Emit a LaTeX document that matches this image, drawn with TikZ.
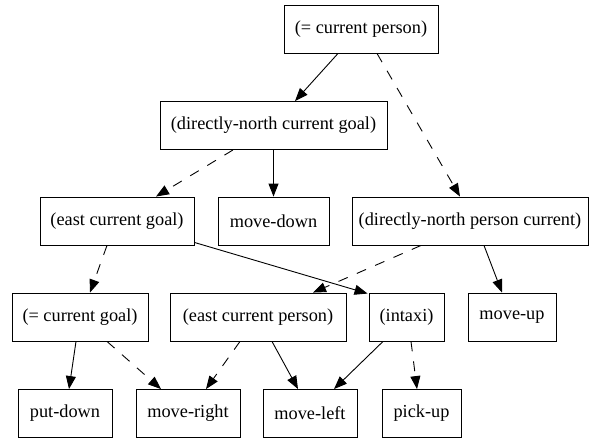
\documentclass[tikz,border=0pt]{standalone}
\usepackage{fontspec}
\setmainfont{Liberation Serif}
\usetikzlibrary{arrows.meta}

\tikzset{
  box/.style={draw, line width=0.9pt, rectangle, inner sep=0pt,
    minimum height=48pt, font=\fontsize{18.3}{22}\selectfont},
  link/.style={line width=0.9pt, -{Triangle[length=13pt,width=10pt]}},
  dlink/.style={link, dash pattern=on 10pt off 10pt},
}

\begin{document}
\begin{tikzpicture}[x=1pt,y=-1pt]
\useasboundingbox[fill=white] (0,0) rectangle (589,437);

% top level
\node[box, minimum width=154pt] (cp)   at (361,29)    {(= current person)};
\node[box, minimum width=227pt] (dncg) at (273.5,125.5) {(directly-north current goal)};

% third row
\node[box, minimum width=154pt] (ecg)  at (117,221)   {(east current goal)};
\node[box, minimum width=111pt] (md)   at (273.5,221) {move-down};
\node[box, minimum width=236pt] (dnpc) at (470,221)   {(directly-north person current)};

% fourth row
\node[box, minimum width=136pt] (ceg)  at (80,317)    {(= current goal)};
\node[box, minimum width=176pt] (ecp)  at (258,317)   {(east current person)};
\node[box, minimum width=75pt]  (itx)  at (406.5,317) {(intaxi)};
\node[box, minimum width=88pt]  (mu)   at (512,317)   {move-up};

% actions
\node[box, minimum width=94pt]  (pd)   at (65,413.5)    {put-down};
\node[box, minimum width=104pt] (mr)   at (188,413.5)   {move-right};
\node[box, minimum width=94pt]  (ml)   at (310,413.5)   {move-left};
\node[box, minimum width=79pt]  (pu)   at (421.5,413.5) {pick-up};

% connectors
\draw[link]  ([xshift=-23pt]cp.south)   -- ([xshift=21.5pt]dncg.north);
\draw[dlink] ([xshift=16pt]cp.south)    -- ([xshift=-10pt]dnpc.north);
\draw[dlink] ([xshift=-40.5pt]dncg.south) -- ([xshift=39pt]ecg.north);
\draw[link]  (dncg.south)               -- (md.north);
\draw[dlink] ([xshift=-10pt]ecg.south)  -- ([xshift=10pt]ceg.north);
\draw[link]  ([yshift=3pt]ecg.south east) -- ([xshift=-1pt,yshift=-1pt]itx.north west);
\draw[dlink] ([xshift=-49pt]dnpc.south) -- ([xshift=55pt]ecp.north);
\draw[link]  ([xshift=14pt]dnpc.south)  -- ([xshift=-10pt]mu.north);
\draw[link]  ([xshift=-4pt]ceg.south)   -- ([xshift=4pt]pd.north);
\draw[dlink] ([xshift=27pt]ceg.south)   -- ([xshift=-27pt]mr.north);
\draw[dlink] ([xshift=-18pt]ecp.south)  -- ([xshift=18pt]mr.north);
\draw[link]  ([xshift=14pt]ecp.south)   -- ([xshift=-12pt]ml.north);
\draw[link]  ([xshift=-23.5pt]itx.south) -- ([xshift=24pt]ml.north);
\draw[dlink] ([xshift=4.5pt]itx.south)  -- ([xshift=-4.5pt]pu.north);
\end{tikzpicture}
\end{document}
